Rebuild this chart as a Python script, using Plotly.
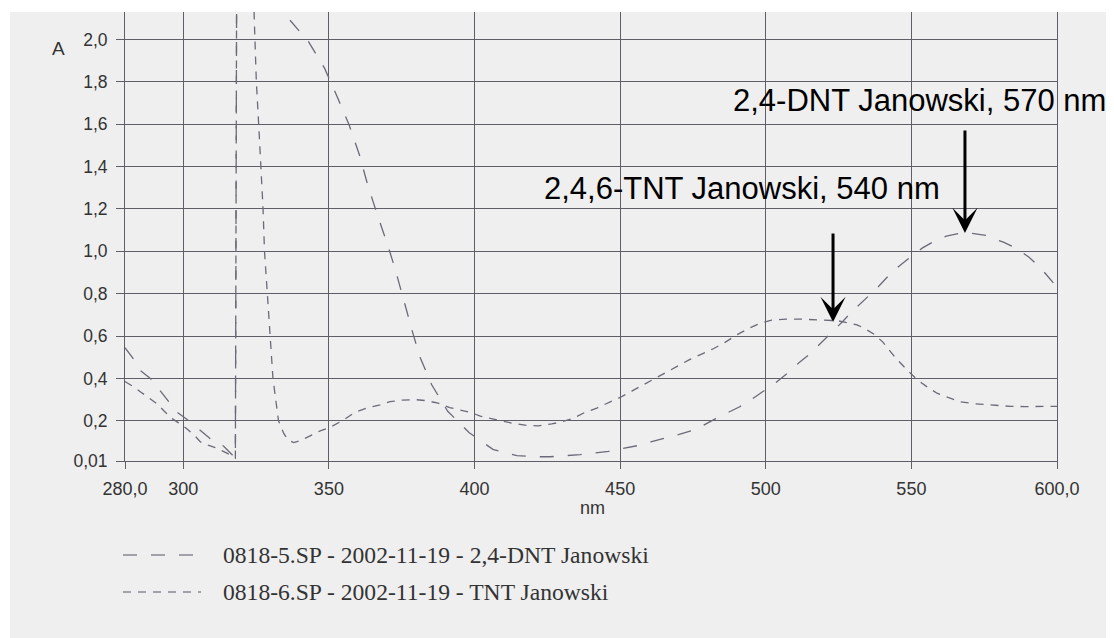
import plotly.graph_objects as go

# ---- data ----
dnt_nm = [280.0, 283.0, 285.0, 288.7, 291.6, 294.4, 297.9, 301.9, 305.3, 309.3, 313.9, 317.9,
          318.4, 326.0, 331.0, 336.1, 343.0, 348.5, 352.7, 357.0, 360.5, 363.3, 366.7, 370.2,
          373.0, 375.9, 378.8, 381.3, 385.3, 390.8, 398.1, 406.3, 414.5, 421.0, 426.0, 431.0,
          436.3, 441.0, 446.0, 451.0, 455.8, 460.5, 465.0, 470.0, 474.4, 478.5, 482.5, 486.5,
          490.9, 495.0, 499.1, 503.5, 507.5, 511.5, 515.5, 518.5, 522.8, 526.5, 529.9, 533.5,
          537.9, 541.5, 545.3, 548.5, 553.7, 557.5, 562.0, 566.5, 570.9, 575.5, 581.6, 586.0,
          590.4, 594.5, 598.0, 600.0]
dnt_a = [0.545, 0.49, 0.44, 0.40, 0.35, 0.30, 0.24, 0.20, 0.16, 0.115, 0.08, 0.024,
         2.6, 2.6, 2.2, 2.10, 1.99, 1.865, 1.735, 1.595, 1.455, 1.315, 1.17, 1.03,
         0.905, 0.757, 0.615, 0.50, 0.37, 0.245, 0.145, 0.065, 0.035, 0.03, 0.03, 0.035,
         0.04, 0.048, 0.055, 0.07, 0.082, 0.10, 0.115, 0.135, 0.153, 0.178, 0.208, 0.235,
         0.265, 0.30, 0.338, 0.38, 0.425, 0.475, 0.52, 0.56, 0.62, 0.67, 0.72, 0.765,
         0.822, 0.875, 0.925, 0.96, 1.015, 1.045, 1.072, 1.085, 1.085, 1.075, 1.043, 1.015,
         0.972, 0.92, 0.865, 0.83]

tnt_nm = [280.0, 283.0, 285.5, 288.1, 291.0, 293.5, 296.2, 298.4, 301.0, 304.2, 305.9, 308.5,
          311.6, 315.0, 317.9, 318.4, 323.5, 324.4, 325.1, 325.9, 326.7, 327.4, 327.9, 328.8,
          329.7, 330.8, 332.7, 334.5, 336.0, 337.9, 340.0, 341.9, 344.0, 347.0, 350.5, 354.6,
          359.0, 363.5, 367.6, 371.0, 375.0, 379.5, 383.5, 387.5, 391.5, 395.0, 398.5, 402.0,
          406.0, 409.5, 413.5, 418.0, 422.0, 426.5, 430.0, 434.0, 438.0, 442.0, 446.0, 450.0,
          454.0, 458.0, 462.0, 466.0, 470.0, 474.0, 478.0, 482.0, 486.0, 490.0, 494.0, 498.0,
          502.0, 507.0, 512.0, 516.2, 520.3, 524.8, 528.0, 531.3, 533.4, 537.5, 540.3, 544.4,
          548.5, 552.0, 555.4, 558.8, 562.6, 566.7, 571.8, 576.0, 580.4, 584.0, 589.0, 593.0,
          598.2, 600.0]
tnt_a = [0.385, 0.36, 0.335, 0.31, 0.28, 0.245, 0.21, 0.19, 0.165, 0.126, 0.10, 0.085,
         0.07, 0.047, 0.024, 2.6, 2.6, 2.09, 1.80, 1.60, 1.40, 1.20, 1.00, 0.80,
         0.60, 0.40, 0.20, 0.14, 0.11, 0.097, 0.105, 0.118, 0.135, 0.152, 0.17, 0.20,
         0.24, 0.262, 0.275, 0.29, 0.297, 0.30, 0.295, 0.283, 0.262, 0.25, 0.24, 0.222,
         0.21, 0.196, 0.187, 0.178, 0.176, 0.185, 0.195, 0.212, 0.24, 0.26, 0.285, 0.31,
         0.34, 0.37, 0.40, 0.43, 0.46, 0.49, 0.515, 0.54, 0.57, 0.605, 0.635, 0.66,
         0.675, 0.68, 0.68, 0.677, 0.677, 0.672, 0.663, 0.653, 0.64, 0.606, 0.57, 0.50,
         0.44, 0.394, 0.36, 0.33, 0.31, 0.29, 0.28, 0.275, 0.27, 0.268, 0.267, 0.267,
         0.268, 0.268]

x_ticks = [280, 300, 350, 400, 450, 500, 550, 600]
x_labels = ["280,0", "300", "350", "400", "450", "500", "550", "600,0"]
y_ticks = [0.01, 0.2, 0.4, 0.6, 0.8, 1.0, 1.2, 1.4, 1.6, 1.8, 2.0]
y_labels = ["0,01", "0,2", "0,4", "0,6", "0,8", "1,0", "1,2", "1,4", "1,6", "1,8", "2,0"]

legend_names = ["0818-5.SP - 2002-11-19 - 2,4-DNT Janowski",
                "0818-6.SP - 2002-11-19 - TNT Janowski"]

peak_labels = ["2,4-DNT Janowski, 570 nm", "2,4,6-TNT Janowski, 540 nm"]

# ---- styling ----
BG = "#efefef"
GRID = "#5f5e66"
CURVE = "#6c6a78"
TXT = "#333333"
SANS = "Liberation Sans, Arial, sans-serif"
SERIF = "Liberation Serif, Times New Roman, serif"
DNT_DASH = "14px,14px"
TNT_DASH = "8px,7px"

# the page body adds an 8px offset; figure is sized so the page is 1114x638
OFF = 8
PAGE_W, PAGE_H = 1114, 638
W, H = PAGE_W - OFF, PAGE_H - OFF
# plot area in page pixels: x 125..1057, y 12..461
L, T = 125 - OFF, 12 - OFF
R = W - (1057 - OFF)
B = H - (461 - OFF)
PW, PH = W - L - R, H - T - B


def px_x(px):  # page px -> paper
    return (px - OFF - L) / PW


def px_y(py):  # page px -> paper
    return (H - B - (py - OFF)) / PH


fig = go.Figure()
fig.add_trace(go.Scatter(x=dnt_nm, y=dnt_a, mode="lines", name=legend_names[0],
                         line=dict(color=CURVE, width=1.3, dash=DNT_DASH)))
fig.add_trace(go.Scatter(x=tnt_nm, y=tnt_a, mode="lines", name=legend_names[1],
                         line=dict(color=CURVE, width=1.3, dash=TNT_DASH)))

annotations = [
    dict(text="A", x=px_x(58.5), y=px_y(49), xref="paper", yref="paper",
         xanchor="center", yanchor="middle",
         showarrow=False, font=dict(family=SANS, size=19, color=TXT)),
    dict(text="nm", x=px_x(592), y=px_y(508), xref="paper", yref="paper",
         xanchor="center", yanchor="middle",
         showarrow=False, font=dict(family=SANS, size=18, color=TXT)),
    # peak labels
    dict(text=peak_labels[0], x=488.2, y=1.71, xref="x", yref="y", xanchor="left",
         yanchor="middle", showarrow=False, font=dict(family=SANS, size=31, color="#000")),
    dict(text=peak_labels[1], x=423.3, y=1.295, xref="x", yref="y", xanchor="left",
         yanchor="middle", showarrow=False, font=dict(family=SANS, size=31, color="#000")),
    # arrows
    dict(text="", x=568.4, y=1.087, ax=568.4, ay=1.578, xref="x", yref="y",
         axref="x", ayref="y", showarrow=True, arrowhead=3, arrowsize=1.4,
         arrowwidth=3, arrowcolor="#000", standoff=0),
    dict(text="", x=523.1, y=0.666, ax=523.1, ay=1.091, xref="x", yref="y",
         axref="x", ayref="y", showarrow=True, arrowhead=3, arrowsize=1.4,
         arrowwidth=3, arrowcolor="#000", standoff=0),
]

shapes = [
    # white scan margins (top and left strips)
    dict(type="rect", xref="paper", yref="paper", x0=px_x(0), x1=px_x(PAGE_W), y0=px_y(12), y1=px_y(0),
         fillcolor="white", line=dict(width=0), layer="above"),
    dict(type="rect", xref="paper", yref="paper", x0=px_x(0), x1=px_x(10), y0=px_y(PAGE_H), y1=px_y(0),
         fillcolor="white", line=dict(width=0), layer="above"),
]

legend_rows = [555, 592]
legend_dashes = [DNT_DASH, TNT_DASH]
for name, row, dash in zip(legend_names, legend_rows, legend_dashes):
    shapes.append(dict(type="line", xref="paper", yref="paper", x0=px_x(123), x1=px_x(201),
                       y0=px_y(row), y1=px_y(row), line=dict(color="#8a8894", width=1.3, dash=dash)))
    annotations.append(dict(text=name, x=px_x(221), y=px_y(row), xref="paper", yref="paper",
                            xanchor="left", yanchor="middle", showarrow=False,
                            font=dict(family=SERIF, size=23.6, color=TXT)))

fig.update_layout(
    width=W, height=H,
    margin=dict(l=L, r=R, t=T, b=B, pad=0),
    paper_bgcolor=BG, plot_bgcolor=BG,
    showlegend=False,
    annotations=annotations,
    shapes=shapes,
    xaxis=dict(range=[280, 600], tickmode="array", tickvals=x_ticks, ticktext=x_labels,
               showgrid=True, gridcolor=GRID, gridwidth=1, zeroline=False,
               showline=True, linecolor=GRID, linewidth=1.3, mirror=False,
               ticks="outside", ticklen=7, tickcolor=GRID, tickwidth=1,
               tickfont=dict(family=SANS, size=18, color=TXT), ticklabelstandoff=4),
    yaxis=dict(range=[0.01, 2.13], tickmode="array", tickvals=y_ticks, ticktext=y_labels,
               showgrid=True, gridcolor=GRID, gridwidth=1.2, zeroline=False,
               showline=True, linecolor=GRID, linewidth=1, mirror=True,
               ticks="outside", ticklen=8, tickcolor=GRID, tickwidth=1.2,
               tickfont=dict(family=SANS, size=17.5, color=TXT), ticklabelstandoff=5),
)

fig.write_html("out.html")
